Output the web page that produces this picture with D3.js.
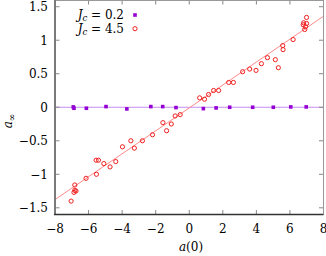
<!DOCTYPE html>
<html>
<meta charset="utf-8">
<style>
body { margin: 0; background: #fff; }
svg text { font-family: 'DejaVu Serif'; font-size: 12px; fill: #000; }
</style>
<script src="https://d3js.org/d3.v7.min.js"></script>
<body>
<div id="chart"></div>
<script>
// data
var xTicks = [-8, -6, -4, -2, 0, 2, 4, 6, 8];
var yTicks = [-1.5, -1, -0.5, 0, 0.5, 1, 1.5];

// J_c = 0.2 (squares)
var lowX = [-6.91, -6.87, -6.13, -4.96, -3.72, -2.29, -1.58, -0.79, 0.84, 1.60, 2.41, 3.78, 5.01, 6.05, 6.97];
var lowY = [0.005, -0.015, -0.015, 0.01, -0.025, 0.01, 0.01, -0.005, -0.02, -0.01, 0.0, 0.0, 0.0, 0.005, 0.005];

// J_c = 4.5 (circles)
var highX = [-7.04, -6.87, -6.82, -6.75, -6.82, -6.15, -5.53, -5.55, -5.41, -5.09, -4.72, -4.38, -3.98, -3.48, -3.27,
             -2.79, -2.19, -1.57, -1.35, -1.07, -0.84, -0.54, 0.62, 0.91, 1.15, 1.45, 1.75, 2.35, 2.63, 3.18,
             3.60, 3.98, 4.30, 4.66, 5.13, 5.31, 5.57, 5.59, 6.19, 6.79, 6.82, 6.88, 6.93, 6.99, 6.99];
var highY = [-1.40, -1.27, -1.24, -1.25, -1.16, -1.06, -1.00, -0.79, -0.79, -0.84, -0.89, -0.81, -0.59, -0.50, -0.61,
             -0.50, -0.41, -0.23, -0.35, -0.25, -0.13, -0.11, 0.14, 0.12, 0.19, 0.25, 0.25, 0.37, 0.37, 0.53,
             0.57, 0.55, 0.65, 0.74, 0.71, 0.59, 0.92, 0.86, 1.01, 1.23, 1.26, 1.16, 1.20, 1.25, 1.34];

// linear fit for J_c = 4.5, end points
var fitX = [-8, 8];
var fitY = [-1.378, 1.358];

var W = 326, H = 256;
var margin = {top: 0, right: 2.5, bottom: 41.5, left: 55};

var svg = d3.select("#chart").append("svg")
  .attr("width", W).attr("height", H);

var x = d3.scaleLinear().domain([-8, 8]).range([margin.left, W - margin.right]);
var y = d3.scaleLinear().domain([-1.6, 1.6]).range([H - margin.bottom, margin.top]);

var tickLen = 4.5;

// zero line
svg.append("line")
  .attr("x1", x(-8)).attr("x2", x(8))
  .attr("y1", y(0)).attr("y2", y(0))
  .attr("stroke", "#c58ef0").attr("stroke-width", 1);

// fit line
svg.append("path")
  .datum(d3.zip(fitX, fitY))
  .attr("fill", "none")
  .attr("stroke", "#ff8a8a")
  .attr("stroke-width", 1)
  .attr("d", d3.line().x(function(d) { return x(d[0]); }).y(function(d) { return y(d[1]); }));

// ticks (inward, mirrored)
var tg = svg.append("g").attr("stroke", "#888").attr("stroke-width", 1);
xTicks.forEach(function(t) {
  tg.append("line").attr("x1", x(t)).attr("x2", x(t)).attr("y1", y(-1.6)).attr("y2", y(-1.6) - tickLen);
  tg.append("line").attr("x1", x(t)).attr("x2", x(t)).attr("y1", y(1.6)).attr("y2", y(1.6) + tickLen);
});
yTicks.forEach(function(t) {
  tg.append("line").attr("x1", x(-8)).attr("x2", x(-8) + tickLen).attr("y1", y(t)).attr("y2", y(t));
  tg.append("line").attr("x1", x(8)).attr("x2", x(8) - tickLen).attr("y1", y(t)).attr("y2", y(t));
});

// border
svg.append("line").attr("x1", x(-8)).attr("x2", x(8)).attr("y1", y(1.6) + 0.5).attr("y2", y(1.6) + 0.5)
  .attr("stroke", "#999").attr("stroke-width", 1);
svg.append("line").attr("x1", x(8)).attr("x2", x(8)).attr("y1", y(1.6)).attr("y2", y(-1.6))
  .attr("stroke", "#999").attr("stroke-width", 1);
svg.append("line").attr("x1", x(-8)).attr("x2", x(-8)).attr("y1", y(1.6)).attr("y2", y(-1.6))
  .attr("stroke", "#7a7a7a").attr("stroke-width", 2);
svg.append("line").attr("x1", x(-8) - 1).attr("x2", x(8)).attr("y1", y(-1.6)).attr("y2", y(-1.6))
  .attr("stroke", "#333").attr("stroke-width", 1.5);

// tick labels
function fmt(v) { return (v < 0 ? "\u2212" : "") + Math.abs(v); }
svg.selectAll(".xl").data(xTicks).enter().append("text")
  .attr("x", function(d) { return x(d); })
  .attr("y", 233)
  .attr("text-anchor", "middle")
  .text(fmt);
svg.selectAll(".yl").data(yTicks).enter().append("text")
  .attr("x", 48)
  .attr("y", function(d) { return y(d) + 4.5; })
  .attr("text-anchor", "end")
  .text(fmt);

// axis titles
var xt = svg.append("text").attr("x", 191).attr("y", 251).attr("text-anchor", "middle");
xt.append("tspan").attr("font-style", "italic").text("a");
xt.append("tspan").text("(0)");

var yt = svg.append("text").attr("transform", "translate(12,121) rotate(-90)").attr("text-anchor", "middle");
yt.append("tspan").attr("font-style", "italic").text("a");
yt.append("tspan").style("font-size", "9px").attr("dy", 3).text("\u221e");

// squares
var sq = 3.6;
svg.selectAll(".sq").data(d3.zip(lowX, lowY)).enter().append("rect")
  .attr("x", function(d) { return x(d[0]) - sq / 2; })
  .attr("y", function(d) { return y(d[1]) - sq / 2; })
  .attr("width", sq).attr("height", sq)
  .attr("fill", "#9400d3");

// circles
svg.selectAll(".ci").data(d3.zip(highX, highY)).enter().append("circle")
  .attr("cx", function(d) { return x(d[0]); })
  .attr("cy", function(d) { return y(d[1]); })
  .attr("r", 2.1)
  .attr("fill", "none")
  .attr("stroke", "#f02020")
  .attr("stroke-width", 1);

// legend
var legend = [{c: "0.2", ty: 19}, {c: "4.5", ty: 33}];
legend.forEach(function(l) {
  var t = svg.append("text").attr("x", 124).attr("y", l.ty).attr("text-anchor", "end");
  t.append("tspan").attr("font-style", "italic").text("J");
  t.append("tspan").attr("font-style", "italic").style("font-size", "8.5px").attr("dy", 2).text("c");
  t.append("tspan").attr("dy", -2).text(" = " + l.c);
});
svg.append("rect").attr("x", 135 - sq / 2).attr("y", 15 - sq / 2).attr("width", sq).attr("height", sq).attr("fill", "#9400d3");
svg.append("circle").attr("cx", 135).attr("cy", 28.7).attr("r", 2.1)
  .attr("fill", "none").attr("stroke", "#f02020").attr("stroke-width", 1);
</script>
</body>
</html>
